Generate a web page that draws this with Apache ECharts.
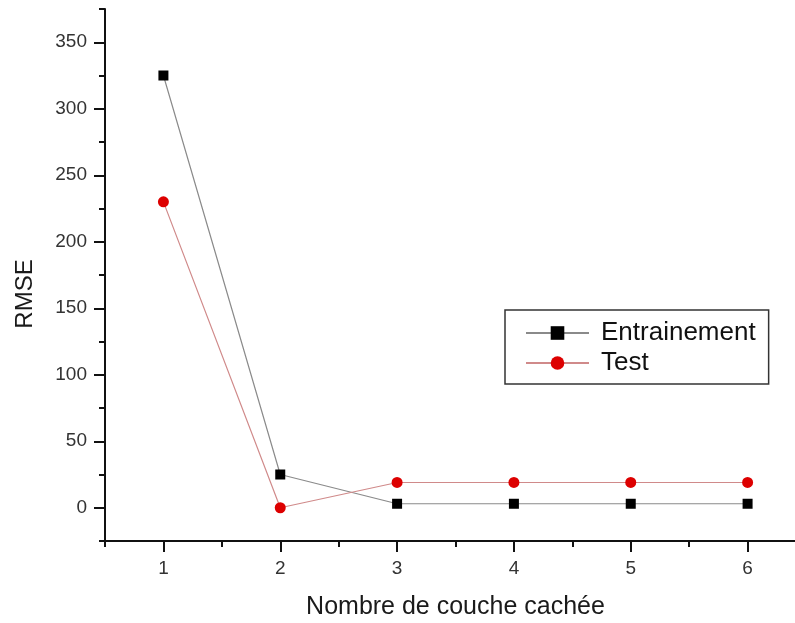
<!DOCTYPE html>
<html>
<head>
<meta charset="utf-8">
<script src="https://cdn.jsdelivr.net/npm/echarts@6/dist/echarts.min.js"></script>
<style>
html,body{margin:0;padding:0;background:#fff;}
#c{width:795px;height:623px;}
</style>
</head>
<body>
<div id="c"></div>
<script>
const categories = [1, 2, 3, 4, 5, 6];
const entrainement = [325, 25, 3, 3, 3, 3];
const test = [230, 0, 19, 19, 19, 19];
const xMajorTicks = [1, 2, 3, 4, 5, 6];
const yMajorTicks = [0, 50, 100, 150, 200, 250, 300, 350];

const FONT = 'Liberation Sans, Arial, sans-serif';
const chart = echarts.init(document.getElementById('c'), null, {renderer: 'canvas'});

const pair = arr => categories.map((c, i) => [c, arr[i]]);

chart.setOption({
  animation: false,
  backgroundColor: '#fff',
  grid: {left: 105, right: -11, top: 9, bottom: 82, containLabel: false, outerBoundsMode: 'none'},
  xAxis: [
    {
      type: 'value', min: 0.5, max: 6.5, interval: 0.5,
      name: 'Nombre de couche cachée', nameLocation: 'middle', nameGap: 54,
      nameTextStyle: {fontFamily: FONT, fontSize: 25, color: '#1a1a1a'},
      axisLine: {show: true, onZero: false, lineStyle: {color: '#111', width: 2}},
      axisTick: {show: true, length: 6, lineStyle: {color: '#111', width: 2}},
      axisLabel: {
        fontFamily: FONT, fontSize: 19, color: '#333', margin: 18,
        formatter: v => (Math.abs(v - Math.round(v)) < 1e-9 && v >= 1 && v <= 6) ? String(Math.round(v)) : ''
      },
      splitLine: {show: false}
    },
    {
      type: 'value', min: 0.5, max: 6.5, position: 'bottom',
      axisLine: {show: false, onZero: false},
      axisTick: {show: true, length: 11, customValues: xMajorTicks, lineStyle: {color: '#111', width: 2}},
      axisLabel: {show: false},
      splitLine: {show: false}
    }
  ],
  yAxis: [
    {
      type: 'value', min: -25, max: 375, interval: 25,
      name: 'RMSE', nameLocation: 'middle', nameGap: 68, nameRotate: 90,
      nameTextStyle: {fontFamily: FONT, fontSize: 24, color: '#1a1a1a', padding: [0, 38, 0, 0]},
      axisLine: {show: true, onZero: false, lineStyle: {color: '#111', width: 2}},
      axisTick: {show: true, length: 6, lineStyle: {color: '#111', width: 2}},
      axisLabel: {
        fontFamily: FONT, fontSize: 19, color: '#333', margin: 18,
        formatter: v => (v >= 0 && v <= 350 && v % 50 === 0) ? String(v) : ''
      },
      splitLine: {show: false}
    },
    {
      type: 'value', min: -25, max: 375, position: 'left',
      axisLine: {show: false, onZero: false},
      axisTick: {show: true, length: 11, customValues: yMajorTicks, lineStyle: {color: '#111', width: 2}},
      axisLabel: {show: false},
      splitLine: {show: false}
    }
  ],
  legend: {
    orient: 'vertical', left: 505, top: 310,
    padding: [10, 13, 8, 20], itemGap: 4,
    itemWidth: 63, itemHeight: 17,
    borderColor: '#333', borderWidth: 1.5,
    textStyle: {fontFamily: FONT, fontSize: 26, color: '#111', padding: [0, 0, 0, 7]},
    data: ['Entrainement', 'Test']
  },
  series: [
    {
      name: 'Entrainement', type: 'line', xAxisIndex: 0, yAxisIndex: 0,
      data: pair(entrainement),
      symbol: 'rect', symbolSize: 10,
      itemStyle: {color: '#000'},
      lineStyle: {color: '#8a8a8a', width: 1.2}
    },
    {
      name: 'Test', type: 'line', xAxisIndex: 0, yAxisIndex: 0,
      data: pair(test),
      symbol: 'circle', symbolSize: 11,
      itemStyle: {color: '#dd0000'},
      lineStyle: {color: '#d08a8a', width: 1.2}
    }
  ]
});
</script>
</body>
</html>
